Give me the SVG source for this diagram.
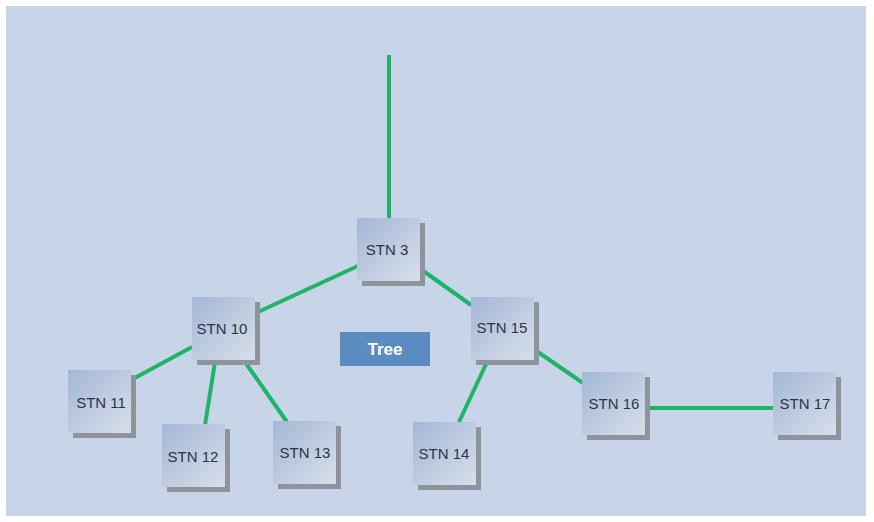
<svg xmlns="http://www.w3.org/2000/svg" width="874" height="522" viewBox="0 0 874 522">
<defs>
<linearGradient id="box" x1="0" y1="0" x2="1" y2="1">
<stop offset="0" stop-color="#a3b7d6"/>
<stop offset="0.6" stop-color="#c3cfe2"/>
<stop offset="1" stop-color="#d6deeb"/>
</linearGradient>
<style>
.sh{fill:#8f949c}
.bx{fill:url(#box)}
.lb{font-family:"Liberation Sans",Arial,sans-serif;font-size:15px;fill:#2e3444;text-anchor:middle}
.ln{stroke:#20b46a;stroke-width:4;fill:none;stroke-linecap:butt}
</style>
</defs>
<rect x="0" y="0" width="874" height="522" fill="#ffffff"/>
<rect x="6" y="6" width="860" height="510" fill="#c8d5e8"/>
<g id="connectors">
<line class="ln" x1="389" y1="55" x2="389" y2="218"/>
<line class="ln" x1="360" y1="265" x2="258" y2="312"/>
<line class="ln" x1="422" y1="270" x2="471" y2="305"/>
<line class="ln" x1="192" y1="347" x2="131" y2="380"/>
<line class="ln" x1="215" y1="362" x2="205" y2="425"/>
<line class="ln" x1="245" y1="362" x2="287" y2="422"/>
<line class="ln" x1="487" y1="362" x2="459" y2="422"/>
<line class="ln" x1="535" y1="350" x2="583" y2="383"/>
<line class="ln" x1="647" y1="408" x2="773" y2="408"/>
</g>
<g id="stn3"><rect class="sh" x="362" y="223" width="63" height="63"/><rect class="bx" x="357" y="218" width="63" height="63"/><text class="lb" x="387" y="255">STN 3</text></g>
<g id="stn10"><rect class="sh" x="197" y="302" width="63" height="63"/><rect class="bx" x="192" y="297" width="63" height="63"/><text class="lb" x="222" y="334">STN 10</text></g>
<g id="stn15"><rect class="sh" x="476" y="302" width="63" height="63"/><rect class="bx" x="471" y="297" width="63" height="63"/><text class="lb" x="502" y="333">STN 15</text></g>
<g id="stn11"><rect class="sh" x="73" y="375" width="63" height="63"/><rect class="bx" x="68" y="370" width="63" height="63"/><text class="lb" x="101" y="408">STN 11</text></g>
<g id="stn12"><rect class="sh" x="167" y="429" width="63" height="63"/><rect class="bx" x="162" y="424" width="63" height="63"/><text class="lb" x="193" y="462">STN 12</text></g>
<g id="stn13"><rect class="sh" x="278" y="426" width="63" height="63"/><rect class="bx" x="273" y="421" width="63" height="63"/><text class="lb" x="305" y="458">STN 13</text></g>
<g id="stn14"><rect class="sh" x="418" y="427" width="63" height="63"/><rect class="bx" x="413" y="422" width="63" height="63"/><text class="lb" x="444" y="459">STN 14</text></g>
<g id="stn16"><rect class="sh" x="587" y="377" width="63" height="63"/><rect class="bx" x="582" y="372" width="63" height="63"/><text class="lb" x="614" y="409">STN 16</text></g>
<g id="stn17"><rect class="sh" x="778" y="377" width="63" height="63"/><rect class="bx" x="773" y="372" width="63" height="63"/><text class="lb" x="805" y="409">STN 17</text></g>
<g id="tree"><rect x="340" y="332" width="90" height="34" fill="#5b8cc1"/><text x="385" y="355" font-family="Liberation Sans,Arial,sans-serif" font-size="17" font-weight="bold" fill="#ffffff" text-anchor="middle">Tree</text></g>
</svg>
